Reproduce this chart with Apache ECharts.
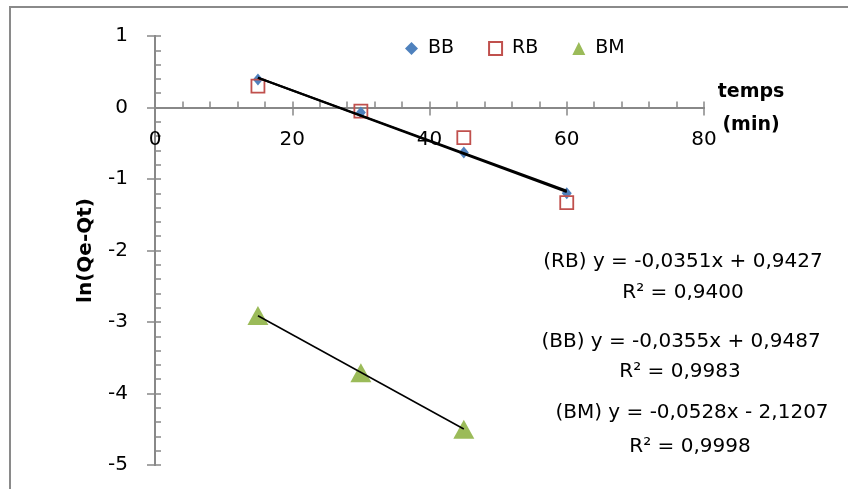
<!DOCTYPE html>
<html>
<head>
<meta charset="utf-8">
<title>ln(Qe-Qt) en fonction du temps</title>
<script src="https://cdn.jsdelivr.net/npm/echarts@6/dist/echarts.min.js"></script>
<style>
  html, body { margin: 0; padding: 0; background: #fff; }
  #chart { width: 848px; height: 489px; }
</style>
</head>
<body>
<div id="chart"></div>
<script>
// Temps de contact (min)
var tempsBB = [15, 30, 45, 60];
var tempsRB = [15, 30, 45, 60];
var tempsBM = [15, 30, 45];

// ln(Qe-Qt) mesurés
var lnBB = [0.39, -0.07, -0.63, -1.20];
var lnRB = [0.30, -0.05, -0.42, -1.33];
var lnBM = [-2.91, -3.71, -4.50];

// Régressions linéaires : pente, ordonnée à l'origine, R²
var seriesNames = ['BB', 'RB', 'BM'];
var slopes = [-0.0355, -0.0351, -0.0528];
var intercepts = [0.9487, 0.9427, -2.1207];
var rSquared = [0.9983, 0.9400, 0.9998];

// Graduations
var xTicks = [0, 20, 40, 60, 80];
var yTicks = [-5, -4, -3, -2, -1, 0, 1];

var FONT = 'DejaVu Sans';

function pairs(xs, ys) {
  return xs.map(function (x, i) { return [x, ys[i]]; });
}

function fitLine(k, xs) {
  var x0 = xs[0], x1 = xs[xs.length - 1];
  return [[x0, slopes[k] * x0 + intercepts[k]], [x1, slopes[k] * x1 + intercepts[k]]];
}

function fr(v) { return v.toFixed(4).replace('.', ','); }

function equation(k) {
  var b = intercepts[k];
  return '(' + seriesNames[k] + ') y = ' + fr(slopes[k]) + 'x ' + (b < 0 ? '- ' : '+ ') + fr(Math.abs(b));
}

function r2Text(k) { return 'R\u00B2 = ' + fr(rSquared[k]); }

var chart = echarts.init(document.getElementById('chart'), null, { renderer: 'canvas' });

var axisGray = '#888888';
var trendStyle = { color: '#000', width: 2 };

// Zone de tracé
var gridBox = { left: 155, right: 144, top: 36, bottom: 24 };
var plotHeight = 489 - gridBox.top - gridBox.bottom;
var yMin = yTicks[0], yMax = yTicks[yTicks.length - 1];
// l'axe des temps est placé sur la ligne y = 0
var xAxisShift = -plotHeight * (0 - yMin) / (yMax - yMin);

var eqPos = [
  // [index, centre de l'équation, centre du R²]
  [1, [683, 262], [683, 293]],
  [0, [681, 342], [680, 372]],
  [2, [692, 413], [690, 447]]
];

var graphics = [{
  type: 'rect',
  shape: { x: 10, y: 7, width: 860, height: 500 },
  style: { fill: 'none', stroke: '#8a8a8a', lineWidth: 2 },
  silent: true
}, {
  type: 'text',
  x: 751, y: 92,
  style: { text: 'temps', font: 'bold 19px "' + FONT + '"', fill: '#000', align: 'center', verticalAlign: 'middle' }
}, {
  type: 'text',
  x: 751, y: 125,
  style: { text: '(min)', font: 'bold 19px "' + FONT + '"', fill: '#000', align: 'center', verticalAlign: 'middle' }
}];

eqPos.forEach(function (p) {
  graphics.push({
    type: 'text', x: p[1][0], y: p[1][1],
    style: { text: equation(p[0]), font: '20px "' + FONT + '"', fill: '#000', align: 'center', verticalAlign: 'middle' }
  });
  graphics.push({
    type: 'text', x: p[2][0], y: p[2][1],
    style: { text: r2Text(p[0]), font: '20px "' + FONT + '"', fill: '#000', align: 'center', verticalAlign: 'middle' }
  });
});

var option = {
  animation: false,
  backgroundColor: '#fff',
  textStyle: { fontFamily: FONT },
  grid: gridBox,
  legend: {
    left: 400, top: 34,
    itemWidth: 13, itemHeight: 13, itemGap: 34,
    textStyle: { fontFamily: FONT, fontSize: 19, color: '#000', padding: [0, 0, 0, 5] },
    data: seriesNames
  },
  xAxis: [{
    type: 'value', min: xTicks[0], max: xTicks[xTicks.length - 1], interval: 20,
    position: 'bottom', offset: xAxisShift,
    axisLine: { onZero: false, lineStyle: { color: axisGray, width: 2 } },
    axisTick: { show: true, inside: true, length: 6, lineStyle: { color: axisGray, width: 1.5 } },
    minorTick: { show: true, splitNumber: 5, length: 6, lineStyle: { color: axisGray, width: 1.5 } },
    splitLine: { show: false },
    axisLabel: { fontFamily: FONT, fontSize: 20, color: '#000', margin: 22 }
  }, {
    type: 'value', min: xTicks[0], max: xTicks[xTicks.length - 1], interval: 20,
    position: 'bottom', offset: xAxisShift,
    axisLine: { onZero: false, lineStyle: { color: axisGray, width: 2 } },
    axisTick: { show: true, inside: false, length: 8, lineStyle: { color: axisGray, width: 1.5 } },
    splitLine: { show: false },
    axisLabel: { show: false }
  }],
  yAxis: [{
    type: 'value', min: yMin, max: yMax, interval: 1,
    position: 'left',
    axisLine: { show: true, onZero: false, lineStyle: { color: axisGray, width: 2 } },
    axisTick: { show: true, inside: true, length: 6, lineStyle: { color: axisGray, width: 1.5 } },
    minorTick: { show: true, splitNumber: 5, length: 6, lineStyle: { color: axisGray, width: 1.5 } },
    splitLine: { show: false },
    axisLabel: { fontFamily: FONT, fontSize: 20, color: '#000', margin: 27 },
    name: 'ln(Qe-Qt)', nameLocation: 'middle', nameGap: 59, nameRotate: 90,
    nameTextStyle: { fontFamily: FONT, fontSize: 20, fontWeight: 'bold', color: '#000' }
  }, {
    type: 'value', min: yMin, max: yMax, interval: 1,
    position: 'left',
    axisLine: { show: true, onZero: false, lineStyle: { color: axisGray, width: 2 } },
    axisTick: { show: true, inside: false, length: 8, lineStyle: { color: axisGray, width: 1.5 } },
    splitLine: { show: false },
    axisLabel: { show: false }
  }],
  series: [{
    name: 'BB', type: 'scatter', data: pairs(tempsBB, lnBB),
    symbol: 'diamond', symbolSize: [10, 12],
    itemStyle: { color: '#4F81BD', opacity: 1 }, z: 3
  }, {
    name: 'RB', type: 'scatter', data: pairs(tempsRB, lnRB),
    symbol: 'rect', symbolSize: 13,
    itemStyle: { color: 'rgba(255,255,255,0)', borderColor: '#C0504D', borderWidth: 1.8, opacity: 1 }, z: 4
  }, {
    name: 'BM', type: 'scatter', data: pairs(tempsBM, lnBM),
    symbol: 'triangle', symbolSize: [21, 19],
    itemStyle: { color: '#9BBB59', opacity: 1 }, z: 3
  }, {
    name: 'tendance BB', type: 'line', data: fitLine(0, tempsBB),
    showSymbol: false, symbol: 'none', lineStyle: trendStyle, z: 6, silent: true
  }, {
    name: 'tendance RB', type: 'line', data: fitLine(1, tempsRB),
    showSymbol: false, symbol: 'none', lineStyle: trendStyle, z: 6, silent: true
  }, {
    name: 'tendance BM', type: 'line', data: fitLine(2, tempsBM),
    showSymbol: false, symbol: 'none', lineStyle: { color: '#000', width: 1.5 }, z: 6, silent: true
  }],
  graphic: graphics
};

chart.setOption(option);
</script>
</body>
</html>
